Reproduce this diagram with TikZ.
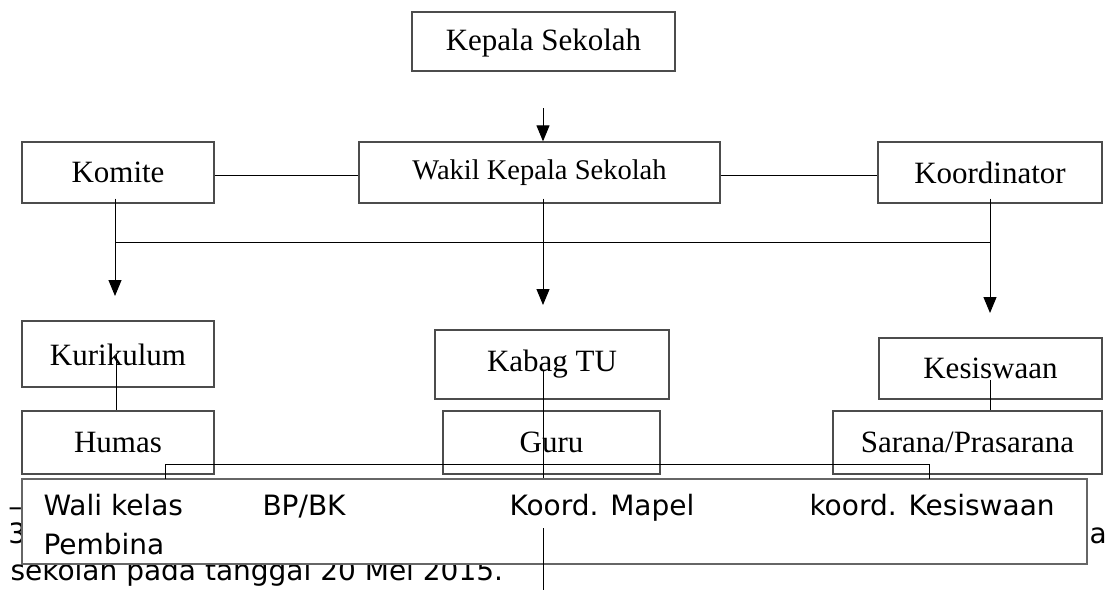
\documentclass[tikz,border=0pt]{standalone}
\usepackage{fontspec}
\setmainfont{Liberation Serif}
\newfontfamily\dejavu{DejaVu Sans}
\usetikzlibrary{arrows.meta}
\usetikzlibrary{positioning}

\begin{document}
\begin{tikzpicture}[x=1pt, y=-1pt, line width=1pt, >={Triangle[length=16pt,width=13pt]},
	kotak/.style={draw=black!70, line width=1.3pt, inner sep=0pt, font=\fontsize{31}{36}\selectfont},
	isi/.style={anchor=base west, inner sep=0pt, font=\dejavu\fontsize{28}{34}\selectfont}]
	\useasboundingbox (0,0) rectangle (1111,590);
	\node[isi] (garis) at (8,516) {–};
	\node[isi] (nomor) at (8,543) {3};
	\node[isi] (hurufa) at (1089,543) {a};
	\node[isi] (sumber) at (10,580) {sekolah pada tanggal 20 Mei 2015.};

	\node[kotak, minimum width=263pt, minimum height=59pt, text depth=4pt] (kepala) at (543.5,41.5) {Kepala Sekolah};
	\node[kotak, minimum width=192pt, minimum height=61pt] (komite) at (118,172.5) {Komite};
	\node[kotak, minimum width=361pt, minimum height=61pt, font=\fontsize{28.5}{34}\selectfont] (wakil) at (539.5,172.5) {Wakil Kepala Sekolah};
	\node[kotak, minimum width=224pt, minimum height=61pt] (koord) at (990,172.5) {Koordinator};
	\node[kotak, minimum width=192pt, minimum height=66pt, text height=24pt] (kurikulum) at (118,354) {Kurikulum};
	\node[kotak, minimum width=234pt, minimum height=69pt] (kabag) at (552,364.5) {Kabag TU};
	\node[kotak, minimum width=223pt, minimum height=61pt] (kesiswaan) at (990.5,368.5) {Kesiswaan};
	\node[kotak, minimum width=192pt, minimum height=63pt] (humas) at (118,442.5) {Humas};
	\node[kotak, minimum width=217pt, minimum height=63pt] (guru) at (551.5,442.5) {Guru};
	\node[kotak, minimum width=269pt, minimum height=63pt] (sarana) at (967.5,442.5) {Sarana/Prasarana};

	\coordinate (mulai) at (543,108);
	\coordinate (panahkiri) at (115,296);
	\coordinate (panahtengah) at (543,305);
	\coordinate (panahkanan) at (990,313);
	\coordinate (cabangkiri) at (115,242);
	\coordinate (cabangkanan) at (990,242);
	\draw[->] (mulai) -- ([xshift=3.5pt]wakil.north);
	\draw ([yshift=-2.5pt]komite.east) -- ([yshift=-2.5pt]wakil.west);
	\draw ([yshift=-2.5pt]wakil.east) -- ([yshift=-2.5pt]koord.west);
	\draw[->] ([xshift=-3pt,yshift=5pt]komite.south) -- (panahkiri);
	\draw[->] ([xshift=3.5pt,yshift=5pt]wakil.south) -- (panahtengah);
	\draw[->] ([yshift=5pt]koord.south) -- (panahkanan);
	\draw (cabangkiri) -- (cabangkanan);

	\draw ([xshift=-2pt]kurikulum.center) -- ([xshift=-2pt]humas.north);
	\draw ([yshift=-11pt]kesiswaan.center) -- (kesiswaan.center |- sarana.north);

	\node[draw=black!60, line width=1.6pt, fill=white, minimum width=1065pt, minimum height=85pt, inner sep=0pt] (besar) at (554.5,521.5) {};
	\node[isi] (wali) at (43,515) {Wali kelas};
	\node[isi] (bpbk) at (262,515) {BP/BK};
	\node[isi] (mapel) at (509,515) {Koord. Mapel};
	\node[isi] (kkes) at (809,515) {koord. Kesiswaan};
	\node[isi] (pembina) at (43,554) {Pembina};

	\coordinate (kurungkiri) at (165,479);
	\coordinate (kurungkanan) at (929,479);
	\draw (kurungkiri) -- ++(0,-15) -| (kurungkanan);
	\draw ([xshift=-9pt,yshift=-5pt]kabag.center) -- ([xshift=-9pt]kabag.center |- besar.north);
	\coordinate (ekor) at (543,528);
	\draw (ekor) -- (543,590);
\end{tikzpicture}
\end{document}
